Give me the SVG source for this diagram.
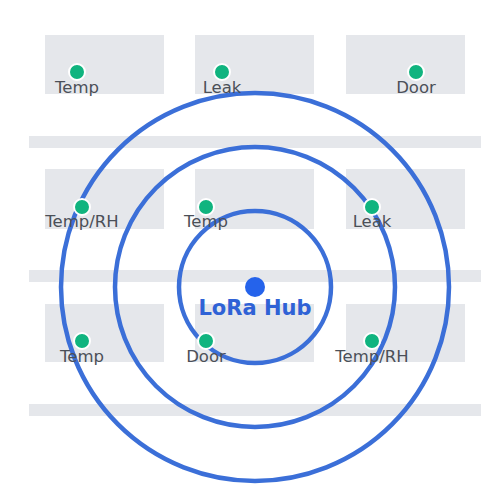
<svg xmlns="http://www.w3.org/2000/svg" width="500" height="500" viewBox="0 0 500 500">
<style>
.room{fill:#e5e7eb}
.corr{fill:#e5e7eb}
.ring{fill:none;stroke:#3b6fd8;stroke-width:4.5}
.dot{fill:#10b47f;stroke:#fff;stroke-width:2}
.lbl{font-family:"DejaVu Sans",sans-serif;font-size:16.5px;fill:#4b5058;text-anchor:middle}
.hub{font-family:"DejaVu Sans",sans-serif;font-size:21px;font-weight:bold;fill:#2f62d6;text-anchor:middle}
</style>
<rect width="500" height="500" fill="#fff"/>
<g id="floor">
<rect class="room" x="45" y="35" width="119" height="59"/>
<rect class="room" x="195" y="35" width="119" height="59"/>
<rect class="room" x="346" y="35" width="119" height="59"/>
<rect class="room" x="45" y="169" width="119" height="60"/>
<rect class="room" x="195" y="169" width="119" height="60"/>
<rect class="room" x="346" y="169" width="119" height="60"/>
<rect class="room" x="45" y="304" width="119" height="58"/>
<rect class="room" x="195" y="304" width="119" height="58"/>
<rect class="room" x="346" y="304" width="119" height="58"/>
<rect class="corr" x="29" y="136" width="452" height="12"/>
<rect class="corr" x="29" y="270" width="452" height="12"/>
<rect class="corr" x="29" y="404" width="452" height="12"/>
</g>
<g id="connectors">
<circle class="ring" cx="255" cy="287" r="76"/>
<circle class="ring" cx="255" cy="287" r="140"/>
<circle class="ring" cx="255" cy="287" r="194"/>
</g>
<g id="hub">
<circle cx="255" cy="287" r="10" fill="#2563eb"/>
<text class="hub" x="255" y="315">LoRa Hub</text>
</g>
<g id="s1"><circle class="dot" cx="77" cy="72" r="8"/><text class="lbl" x="77" y="93">Temp</text></g>
<g id="s2"><circle class="dot" cx="222" cy="72" r="8"/><text class="lbl" x="222" y="93">Leak</text></g>
<g id="s3"><circle class="dot" cx="416" cy="72" r="8"/><text class="lbl" x="416" y="93">Door</text></g>
<g id="s4"><circle class="dot" cx="82" cy="207" r="8"/><text class="lbl" x="82" y="227">Temp/RH</text></g>
<g id="s5"><circle class="dot" cx="206" cy="207" r="8"/><text class="lbl" x="206" y="227">Temp</text></g>
<g id="s6"><circle class="dot" cx="372" cy="207" r="8"/><text class="lbl" x="372" y="227">Leak</text></g>
<g id="s7"><circle class="dot" cx="82" cy="341" r="8"/><text class="lbl" x="82" y="362">Temp</text></g>
<g id="s8"><circle class="dot" cx="206" cy="341" r="8"/><text class="lbl" x="206" y="362">Door</text></g>
<g id="s9"><circle class="dot" cx="372" cy="341" r="8"/><text class="lbl" x="372" y="362">Temp/RH</text></g>
</svg>
